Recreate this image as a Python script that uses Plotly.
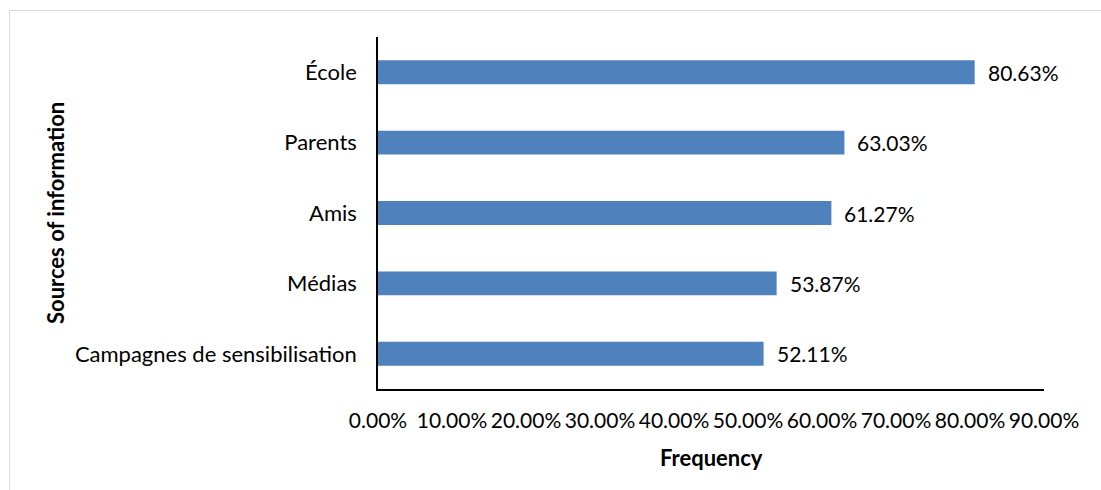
import plotly.graph_objects as go

categories = ["Campagnes de sensibilisation", "Médias", "Amis", "Parents", "École"]
values = [52.11, 53.87, 61.27, 63.03, 80.63]
x_ticks = [0, 10, 20, 30, 40, 50, 60, 70, 80, 90]

FONT = "Lato"
BAR = "#4F81BD"

W, H = 1101, 490
ML, MR, MT, MB = 378, W - 1044, 37, H - 389
PW, PH = W - ML - MR, H - MT - MB

fig = go.Figure()
fig.add_trace(go.Bar(
    x=values, y=categories, orientation="h",
    marker=dict(color=BAR, line=dict(width=0)),
    width=0.34, hoverinfo="skip",
))

for v, c in zip(values, categories):
    fig.add_annotation(x=v, y=c, xref="x", yref="y", text=f"{v:.2f}%",
                       showarrow=False, xanchor="left", yanchor="middle",
                       xshift=11, font=dict(family=FONT, size=21, color="#000"))

fig.add_annotation(x=(55 - ML) / PW, y=(389 - 213) / PH, xref="paper", yref="paper",
                   text="<b>Sources of information</b>", textangle=-90, showarrow=False,
                   xanchor="center", yanchor="middle",
                   font=dict(family=FONT, size=22, color="#000"))
fig.add_annotation(x=(711 - ML) / PW, y=(389 - 457) / PH, xref="paper", yref="paper",
                   text="<b>Frequency</b>", showarrow=False,
                   xanchor="center", yanchor="middle",
                   font=dict(family=FONT, size=22, color="#000"))

fig.add_shape(type="rect", xref="paper", yref="paper",
              x0=(9.5 - ML) / PW, x1=(1110 - ML) / PW,
              y0=(389 - 500) / PH, y1=1 + (MT - 10.5) / PH,
              line=dict(color="#D9D9D9", width=1), fillcolor="rgba(0,0,0,0)", layer="below")

fig.update_layout(
    width=W, height=H,
    margin=dict(l=ML, r=MR, t=MT, b=MB, pad=0),
    paper_bgcolor="white", plot_bgcolor="white",
    showlegend=False,
    font=dict(family=FONT, size=21, color="#000"),
    xaxis=dict(range=[0, 90], tickvals=x_ticks,
               ticktext=[f"{t:.2f}%" for t in x_ticks],
               showgrid=False, zeroline=False, showline=True,
               linecolor="#000", linewidth=1.5, ticks="",
               ticklabelstandoff=12, tickfont=dict(family=FONT, size=21)),
    yaxis=dict(categoryorder="array", categoryarray=categories,
               showgrid=False, zeroline=False, showline=True,
               linecolor="#000", linewidth=1.5, ticks="",
               ticklabelstandoff=15, tickfont=dict(family=FONT, size=22)),
)

fig.write_html("out.html")
